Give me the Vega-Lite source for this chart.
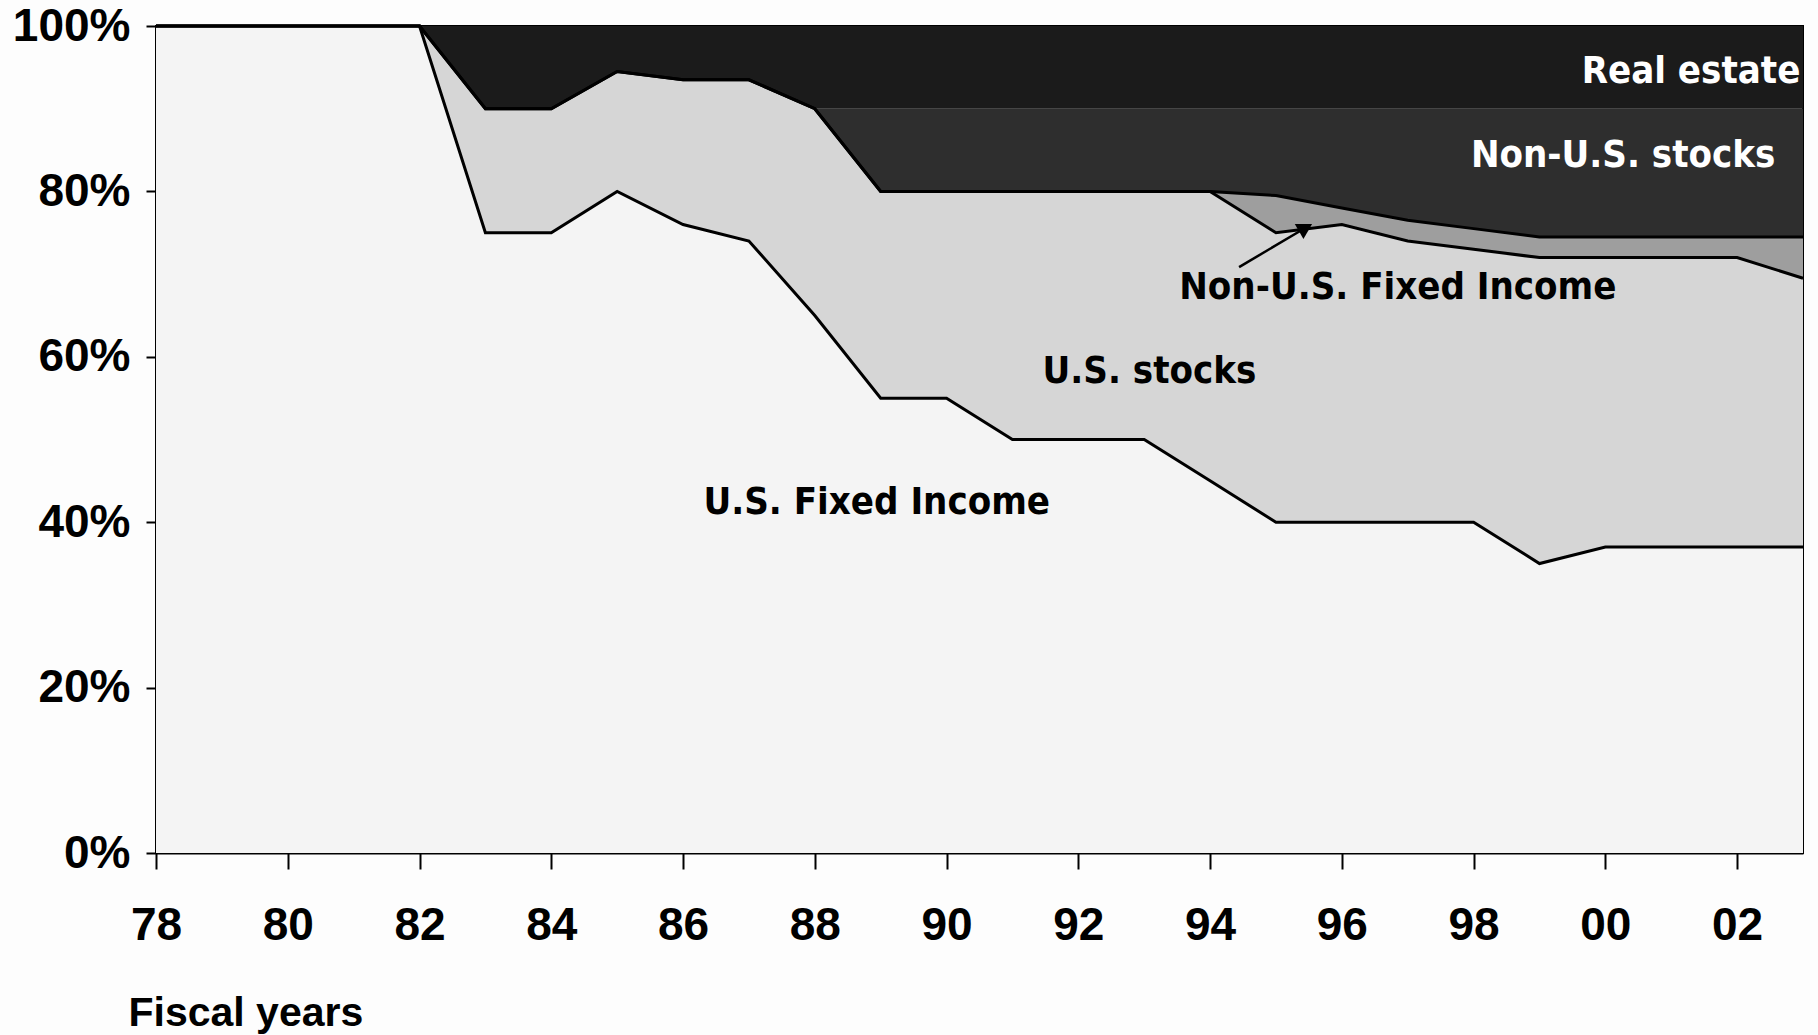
{
  "$schema": "https://vega.github.io/schema/vega-lite/v6.json",
  "width": 1647,
  "height": 827,
  "autosize": {"type": "none"},
  "padding": {"left": 156, "top": 26, "right": 15, "bottom": 182},
  "background": "#fdfdfd",
  "config": {
    "view": {"stroke": "black", "strokeWidth": 2},
    "axis": {
      "grid": false,
      "domainColor": "black",
      "domainWidth": 2,
      "tickColor": "black",
      "tickWidth": 2,
      "labelColor": "black",
      "labelFont": "Liberation Sans, Arial, sans-serif",
      "labelFontSize": 46,
      "labelFontWeight": "bold",
      "titleColor": "black",
      "titleFont": "Liberation Sans, Arial, sans-serif",
      "titleFontSize": 41,
      "titleFontWeight": "bold"
    }
  },
  "datasets": {
    "assets": [
      {"asset": "U.S. Fixed Income", "rank": 1},
      {"asset": "U.S. stocks", "rank": 2},
      {"asset": "Non-U.S. Fixed Income", "rank": 3},
      {"asset": "Non-U.S. stocks", "rank": 4},
      {"asset": "Real estate", "rank": 5}
    ],
    "alloc": [
      {"year": 1978, "asset": "U.S. Fixed Income", "share": 100}, {"year": 1978, "asset": "U.S. stocks", "share": 0}, {"year": 1978, "asset": "Non-U.S. Fixed Income", "share": 0}, {"year": 1978, "asset": "Non-U.S. stocks", "share": 0}, {"year": 1978, "asset": "Real estate", "share": 0},
      {"year": 1979, "asset": "U.S. Fixed Income", "share": 100}, {"year": 1979, "asset": "U.S. stocks", "share": 0}, {"year": 1979, "asset": "Non-U.S. Fixed Income", "share": 0}, {"year": 1979, "asset": "Non-U.S. stocks", "share": 0}, {"year": 1979, "asset": "Real estate", "share": 0},
      {"year": 1980, "asset": "U.S. Fixed Income", "share": 100}, {"year": 1980, "asset": "U.S. stocks", "share": 0}, {"year": 1980, "asset": "Non-U.S. Fixed Income", "share": 0}, {"year": 1980, "asset": "Non-U.S. stocks", "share": 0}, {"year": 1980, "asset": "Real estate", "share": 0},
      {"year": 1981, "asset": "U.S. Fixed Income", "share": 100}, {"year": 1981, "asset": "U.S. stocks", "share": 0}, {"year": 1981, "asset": "Non-U.S. Fixed Income", "share": 0}, {"year": 1981, "asset": "Non-U.S. stocks", "share": 0}, {"year": 1981, "asset": "Real estate", "share": 0},
      {"year": 1982, "asset": "U.S. Fixed Income", "share": 100}, {"year": 1982, "asset": "U.S. stocks", "share": 0}, {"year": 1982, "asset": "Non-U.S. Fixed Income", "share": 0}, {"year": 1982, "asset": "Non-U.S. stocks", "share": 0}, {"year": 1982, "asset": "Real estate", "share": 0},
      {"year": 1983, "asset": "U.S. Fixed Income", "share": 75}, {"year": 1983, "asset": "U.S. stocks", "share": 15}, {"year": 1983, "asset": "Non-U.S. Fixed Income", "share": 0}, {"year": 1983, "asset": "Non-U.S. stocks", "share": 0}, {"year": 1983, "asset": "Real estate", "share": 10},
      {"year": 1984, "asset": "U.S. Fixed Income", "share": 75}, {"year": 1984, "asset": "U.S. stocks", "share": 15}, {"year": 1984, "asset": "Non-U.S. Fixed Income", "share": 0}, {"year": 1984, "asset": "Non-U.S. stocks", "share": 0}, {"year": 1984, "asset": "Real estate", "share": 10},
      {"year": 1985, "asset": "U.S. Fixed Income", "share": 80}, {"year": 1985, "asset": "U.S. stocks", "share": 14.5}, {"year": 1985, "asset": "Non-U.S. Fixed Income", "share": 0}, {"year": 1985, "asset": "Non-U.S. stocks", "share": 0}, {"year": 1985, "asset": "Real estate", "share": 5.5},
      {"year": 1986, "asset": "U.S. Fixed Income", "share": 76}, {"year": 1986, "asset": "U.S. stocks", "share": 17.5}, {"year": 1986, "asset": "Non-U.S. Fixed Income", "share": 0}, {"year": 1986, "asset": "Non-U.S. stocks", "share": 0}, {"year": 1986, "asset": "Real estate", "share": 6.5},
      {"year": 1987, "asset": "U.S. Fixed Income", "share": 74}, {"year": 1987, "asset": "U.S. stocks", "share": 19.5}, {"year": 1987, "asset": "Non-U.S. Fixed Income", "share": 0}, {"year": 1987, "asset": "Non-U.S. stocks", "share": 0}, {"year": 1987, "asset": "Real estate", "share": 6.5},
      {"year": 1988, "asset": "U.S. Fixed Income", "share": 65}, {"year": 1988, "asset": "U.S. stocks", "share": 25}, {"year": 1988, "asset": "Non-U.S. Fixed Income", "share": 0}, {"year": 1988, "asset": "Non-U.S. stocks", "share": 0}, {"year": 1988, "asset": "Real estate", "share": 10},
      {"year": 1989, "asset": "U.S. Fixed Income", "share": 55}, {"year": 1989, "asset": "U.S. stocks", "share": 25}, {"year": 1989, "asset": "Non-U.S. Fixed Income", "share": 0}, {"year": 1989, "asset": "Non-U.S. stocks", "share": 10}, {"year": 1989, "asset": "Real estate", "share": 10},
      {"year": 1990, "asset": "U.S. Fixed Income", "share": 55}, {"year": 1990, "asset": "U.S. stocks", "share": 25}, {"year": 1990, "asset": "Non-U.S. Fixed Income", "share": 0}, {"year": 1990, "asset": "Non-U.S. stocks", "share": 10}, {"year": 1990, "asset": "Real estate", "share": 10},
      {"year": 1991, "asset": "U.S. Fixed Income", "share": 50}, {"year": 1991, "asset": "U.S. stocks", "share": 30}, {"year": 1991, "asset": "Non-U.S. Fixed Income", "share": 0}, {"year": 1991, "asset": "Non-U.S. stocks", "share": 10}, {"year": 1991, "asset": "Real estate", "share": 10},
      {"year": 1992, "asset": "U.S. Fixed Income", "share": 50}, {"year": 1992, "asset": "U.S. stocks", "share": 30}, {"year": 1992, "asset": "Non-U.S. Fixed Income", "share": 0}, {"year": 1992, "asset": "Non-U.S. stocks", "share": 10}, {"year": 1992, "asset": "Real estate", "share": 10},
      {"year": 1993, "asset": "U.S. Fixed Income", "share": 50}, {"year": 1993, "asset": "U.S. stocks", "share": 30}, {"year": 1993, "asset": "Non-U.S. Fixed Income", "share": 0}, {"year": 1993, "asset": "Non-U.S. stocks", "share": 10}, {"year": 1993, "asset": "Real estate", "share": 10},
      {"year": 1994, "asset": "U.S. Fixed Income", "share": 45}, {"year": 1994, "asset": "U.S. stocks", "share": 35}, {"year": 1994, "asset": "Non-U.S. Fixed Income", "share": 0}, {"year": 1994, "asset": "Non-U.S. stocks", "share": 10}, {"year": 1994, "asset": "Real estate", "share": 10},
      {"year": 1995, "asset": "U.S. Fixed Income", "share": 40}, {"year": 1995, "asset": "U.S. stocks", "share": 35}, {"year": 1995, "asset": "Non-U.S. Fixed Income", "share": 4.5}, {"year": 1995, "asset": "Non-U.S. stocks", "share": 10.5}, {"year": 1995, "asset": "Real estate", "share": 10},
      {"year": 1996, "asset": "U.S. Fixed Income", "share": 40}, {"year": 1996, "asset": "U.S. stocks", "share": 36}, {"year": 1996, "asset": "Non-U.S. Fixed Income", "share": 2}, {"year": 1996, "asset": "Non-U.S. stocks", "share": 12}, {"year": 1996, "asset": "Real estate", "share": 10},
      {"year": 1997, "asset": "U.S. Fixed Income", "share": 40}, {"year": 1997, "asset": "U.S. stocks", "share": 34}, {"year": 1997, "asset": "Non-U.S. Fixed Income", "share": 2.5}, {"year": 1997, "asset": "Non-U.S. stocks", "share": 13.5}, {"year": 1997, "asset": "Real estate", "share": 10},
      {"year": 1998, "asset": "U.S. Fixed Income", "share": 40}, {"year": 1998, "asset": "U.S. stocks", "share": 33}, {"year": 1998, "asset": "Non-U.S. Fixed Income", "share": 2.5}, {"year": 1998, "asset": "Non-U.S. stocks", "share": 14.5}, {"year": 1998, "asset": "Real estate", "share": 10},
      {"year": 1999, "asset": "U.S. Fixed Income", "share": 35}, {"year": 1999, "asset": "U.S. stocks", "share": 37}, {"year": 1999, "asset": "Non-U.S. Fixed Income", "share": 2.5}, {"year": 1999, "asset": "Non-U.S. stocks", "share": 15.5}, {"year": 1999, "asset": "Real estate", "share": 10},
      {"year": 2000, "asset": "U.S. Fixed Income", "share": 37}, {"year": 2000, "asset": "U.S. stocks", "share": 35}, {"year": 2000, "asset": "Non-U.S. Fixed Income", "share": 2.5}, {"year": 2000, "asset": "Non-U.S. stocks", "share": 15.5}, {"year": 2000, "asset": "Real estate", "share": 10},
      {"year": 2001, "asset": "U.S. Fixed Income", "share": 37}, {"year": 2001, "asset": "U.S. stocks", "share": 35}, {"year": 2001, "asset": "Non-U.S. Fixed Income", "share": 2.5}, {"year": 2001, "asset": "Non-U.S. stocks", "share": 15.5}, {"year": 2001, "asset": "Real estate", "share": 10},
      {"year": 2002, "asset": "U.S. Fixed Income", "share": 37}, {"year": 2002, "asset": "U.S. stocks", "share": 35}, {"year": 2002, "asset": "Non-U.S. Fixed Income", "share": 2.5}, {"year": 2002, "asset": "Non-U.S. stocks", "share": 15.5}, {"year": 2002, "asset": "Real estate", "share": 10},
      {"year": 2003, "asset": "U.S. Fixed Income", "share": 37}, {"year": 2003, "asset": "U.S. stocks", "share": 32.5}, {"year": 2003, "asset": "Non-U.S. Fixed Income", "share": 5}, {"year": 2003, "asset": "Non-U.S. stocks", "share": 15.5}, {"year": 2003, "asset": "Real estate", "share": 10}
    ],
    "labels": [
      {"label": "Real estate", "year": 2001.3, "pct": 94.4, "tone": "light"},
      {"label": "Non-U.S. stocks", "year": 2000.27, "pct": 84.3, "tone": "light"},
      {"label": "Non-U.S. Fixed Income", "year": 1996.85, "pct": 68.3, "tone": "dark"},
      {"label": "U.S. stocks", "year": 1993.08, "pct": 58.2, "tone": "dark"},
      {"label": "U.S. Fixed Income", "year": 1988.94, "pct": 42.3, "tone": "dark"}
    ],
    "arrow": [
      {"x1": 1994.44, "y1": 70.85, "x2": 1995.45, "y2": 75.6}
    ]
  },
  "layer": [
    {
      "data": {"name": "alloc"},
      "transform": [
        {"lookup": "asset", "from": {"data": {"name": "assets"}, "key": "asset", "fields": ["rank"]}},
        {"stack": "share", "groupby": ["year"], "sort": [{"field": "rank", "order": "ascending"}], "as": ["lo", "hi"]}
      ],
      "mark": {"type": "area", "interpolate": "linear"},
      "encoding": {
        "x": {
          "field": "year", "type": "quantitative",
          "scale": {"domain": [1978, 2003], "nice": false, "zero": false},
          "axis": {
            "values": [1978, 1980, 1982, 1984, 1986, 1988, 1990, 1992, 1994, 1996, 1998, 2000, 2002],
            "labelExpr": "substring(toString(datum.value), 2)",
            "tickSize": 16,
            "labelPadding": 34,
            "labelFlush": false,
            "labelOverlap": false,
            "title": "Fiscal years",
            "titleAnchor": "start",
            "titleAlign": "left",
            "titleBaseline": "alphabetic",
            "titleX": -28,
            "titleY": 172
          }
        },
        "y": {
          "field": "hi", "type": "quantitative",
          "scale": {"domain": [0, 100], "nice": false},
          "axis": {
            "values": [0, 20, 40, 60, 80, 100],
            "labelExpr": "datum.value + '%'",
            "tickSize": 10,
            "labelPadding": 16,
            "labelFlush": false,
            "labelOverlap": false,
            "title": null
          }
        },
        "y2": {"field": "lo"},
        "color": {
          "field": "asset", "type": "nominal",
          "scale": {
            "domain": ["U.S. Fixed Income", "U.S. stocks", "Non-U.S. Fixed Income", "Non-U.S. stocks", "Real estate"],
            "range": ["#f4f4f4", "#d6d6d6", "#9e9e9e", "#2e2e2e", "#1b1b1b"]
          },
          "legend": null
        }
      }
    },
    {
      "data": {"name": "alloc"},
      "transform": [
        {"lookup": "asset", "from": {"data": {"name": "assets"}, "key": "asset", "fields": ["rank"]}},
        {"stack": "share", "groupby": ["year"], "sort": [{"field": "rank", "order": "ascending"}], "as": ["lo", "hi"]},
        {"filter": "datum.rank <= 3"}
      ],
      "mark": {"type": "line", "color": "black", "strokeWidth": 3, "interpolate": "linear"},
      "encoding": {
        "x": {"field": "year", "type": "quantitative"},
        "y": {"field": "hi", "type": "quantitative"},
        "detail": {"field": "asset", "type": "nominal"}
      }
    },
    {
      "data": {"name": "arrow"},
      "mark": {"type": "rule", "color": "black", "strokeWidth": 2.5},
      "encoding": {
        "x": {"field": "x1", "type": "quantitative"},
        "y": {"field": "y1", "type": "quantitative"},
        "x2": {"field": "x2"},
        "y2": {"field": "y2"}
      }
    },
    {
      "data": {"name": "arrow"},
      "mark": {"type": "point", "shape": "triangle-up", "filled": true, "color": "black", "opacity": 1, "size": 300, "angle": 60},
      "encoding": {
        "x": {"field": "x2", "type": "quantitative"},
        "y": {"field": "y2", "type": "quantitative"}
      }
    },
    {
      "data": {"name": "labels"},
      "mark": {"type": "text", "font": "DejaVu Sans Condensed, DejaVu Sans, sans-serif", "fontWeight": "bold", "fontSize": 38, "align": "center", "baseline": "middle"},
      "encoding": {
        "x": {"field": "year", "type": "quantitative"},
        "y": {"field": "pct", "type": "quantitative"},
        "text": {"field": "label"},
        "color": {
          "condition": {"test": "datum.tone === 'light'", "value": "#ffffff"},
          "value": "#000000"
        }
      }
    }
  ]
}
